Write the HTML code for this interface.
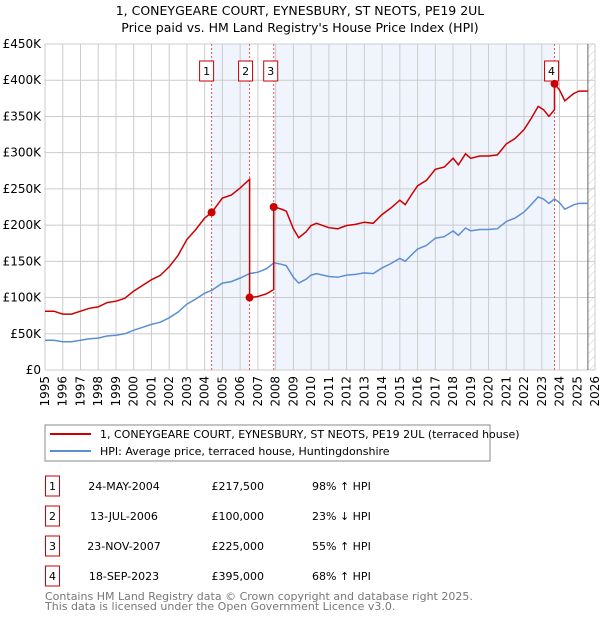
<!DOCTYPE html>
<html><head><meta charset="utf-8"><style>
body{margin:0;background:#fff;font-family:"DejaVu Sans","Liberation Sans",sans-serif;}
svg text{font-family:"DejaVu Sans","Liberation Sans",sans-serif;}
</style></head><body>
<svg id="chart" width="600" height="620" xmlns="http://www.w3.org/2000/svg">
<defs><pattern id="hatch" width="6" height="6" patternUnits="userSpaceOnUse" patternTransform="rotate(45)"><line x1="0" y1="0" x2="0" y2="6" stroke="#ccc" stroke-width="1"/></pattern></defs>
<text x="300" y="15" text-anchor="middle" font-size="12.5">1, CONEYGEARE COURT, EYNESBURY, ST NEOTS, PE19 2UL</text>
<text x="300" y="32" text-anchor="middle" font-size="12.5">Price paid vs. HM Land Registry's House Price Index (HPI)</text>
<g id="plot"></g>
<rect x="45" y="425" width="445" height="36" fill="#fff" stroke="#888"/>
<line x1="50" y1="434" x2="91" y2="434" stroke="#cc0000" stroke-width="2"/>
<text x="100" y="438" font-size="11">1, CONEYGEARE COURT, EYNESBURY, ST NEOTS, PE19 2UL (terraced house)</text>
<line x1="50" y1="451" x2="91" y2="451" stroke="#5b8fd4" stroke-width="2"/>
<text x="100" y="455" font-size="11">HPI: Average price, terraced house, Huntingdonshire</text>
<g id="table"></g>
<text x="45" y="600" font-size="11" fill="#777">Contains HM Land Registry data © Crown copyright and database right 2025.</text>
<text x="45" y="610" font-size="11" fill="#777">This data is licensed under the Open Government Licence v3.0.</text>
</svg>
<script>
const hpiYears=[1995,1995.5,1996,1996.5,1997,1997.5,1998,1998.5,1999,1999.5,2000,2000.5,2001,2001.5,2002,2002.5,2003,2003.5,2004,2004.4,2005,2005.5,2006,2006.53,2007,2007.5,2007.9,2008.3,2008.6,2009,2009.3,2009.7,2010,2010.3,2011,2011.5,2012,2012.5,2013,2013.5,2014,2014.5,2015,2015.3,2015.7,2016,2016.5,2017,2017.5,2018,2018.3,2018.7,2019,2019.5,2020,2020.5,2021,2021.5,2022,2022.4,2022.8,2023.1,2023.4,2023.72,2024,2024.3,2024.8,2025.1,2025.6];
const hpiValues=[41,41,39,39,41,43,44,47,48,50,55,59,63,66,72,80,91,98,106,110,120,122,127,133,135,140,148,146,144,128,120,125,131,133,129,128,131,132,134,133,141,147,154,150,160,167,172,182,184,192,186,196,192,194,194,195,205,210,218,228,239,236,230,236,231,222,228,230,230];
const saleYears=[2004.39,2006.53,2007.89,2023.72];
const salePrices=[217500,100000,225000,395000];
const saleLabels=["1","2","3","4"];
const saleDates=["24-MAY-2004","13-JUL-2006","23-NOV-2007","18-SEP-2023"];
const salePriceText=["£217,500","£100,000","£225,000","£395,000"];
const saleHpiText=["98% ↑ HPI","23% ↓ HPI","55% ↑ HPI","68% ↑ HPI"];
const yTicks=[0,50,100,150,200,250,300,350,400,450];
const yTickLabels=["£0","£50K","£100K","£150K","£200K","£250K","£300K","£350K","£400K","£450K"];
const xTicks=[1995,1996,1997,1998,1999,2000,2001,2002,2003,2004,2005,2006,2007,2008,2009,2010,2011,2012,2013,2014,2015,2016,2017,2018,2019,2020,2021,2022,2023,2024,2025,2026];

const NS="http://www.w3.org/2000/svg";
const X0=45,X1=595,Y0=370,Y1=44;
const xs=y=>X0+(y-1995)/(2026-1995)*(X1-X0);
const ys=v=>Y0-v/450*(Y0-Y1);
function mk(tag,attrs,parent){const e=document.createElementNS(NS,tag);for(const k in attrs)e.setAttribute(k,attrs[k]);parent.appendChild(e);return e;}
const g=document.getElementById('plot');
function hpiAt(t){for(let i=0;i<hpiYears.length-1;i++){if(t<=hpiYears[i+1]){const f=(t-hpiYears[i])/(hpiYears[i+1]-hpiYears[i]);return hpiValues[i]+f*(hpiValues[i+1]-hpiValues[i]);}}return hpiValues[hpiValues.length-1];}
let r=mk('rect',{x:xs(saleYears[0]),y:Y1,width:xs(saleYears[1])-xs(saleYears[0]),height:Y0-Y1,fill:'#f0f4fd'},g);


r=mk('rect',{x:xs(saleYears[2]),y:Y1,width:xs(saleYears[3])-xs(saleYears[2]),height:Y0-Y1,fill:'#f0f4fd'},g);


r=mk('rect',{x:xs(2025.6),y:Y1,width:X1-xs(2025.6),height:Y0-Y1,fill:'url(#hatch)'},g);


yTicks.forEach((v,i)=>{
 const l=mk('line',{x1:X0,x2:X1,y1:ys(v),y2:ys(v),stroke:'#ccc','stroke-width':1},g);
 
 
 const t=mk('text',{x:X0-4,y:ys(v)+4,'text-anchor':'end','font-size':12},g);t.textContent=yTickLabels[i];
 
 
});
xTicks.forEach(yr=>{
 const l=mk('line',{x1:xs(yr),x2:xs(yr),y1:Y1,y2:Y0,stroke:'#ccc','stroke-width':1},g);
 
 
 const t=mk('text',{x:0,y:0,'text-anchor':'end','font-size':12,transform:`translate(${xs(yr)+4},${Y0+6}) rotate(-90)`},g);t.textContent=yr;
 
 
});
let a=mk('line',{x1:xs(2025.6),x2:xs(2025.6),y1:Y1,y2:Y0,stroke:'#666','stroke-width':1},g);


saleYears.forEach((sy,i)=>{
 const l=mk('line',{x1:xs(sy),x2:xs(sy),y1:Y1,y2:Y0,stroke:'#e55','stroke-width':1,'stroke-dasharray':'2,2'},g);
 
 
 const off=[-5,-4,-3,-3][i];
 const b=mk('rect',{x:xs(sy)+off-7,y:61,width:14,height:20,fill:'#fff',stroke:'#cc0000'},g);
 
 
 const t=mk('text',{x:xs(sy)+off,y:75,'text-anchor':'middle','font-size':11},g);t.textContent=saleLabels[i];
 
 
});
let d='';hpiYears.forEach((yr,i)=>{d+=(i?'L':'M')+xs(yr).toFixed(1)+','+ys(hpiValues[i]).toFixed(1);});
let p=mk('path',{d:d,fill:'none',stroke:'#5b8fd4','stroke-width':1.5},g);


const bounds=[1995,...saleYears.slice(1),2025.6];
d='';
for(let s=0;s<saleYears.length;s++){
 const f=salePrices[s]/1000/hpiAt(saleYears[s]);
 const a0=bounds[s],a1=bounds[s+1];
 const pts=[a0,...hpiYears.filter(y=>y>a0&&y<a1),a1];
 pts.forEach((yr,j)=>{d+=((s==0&&j==0)?'M':'L')+xs(yr).toFixed(1)+','+ys(hpiAt(yr)*f).toFixed(1);});
}
p=mk('path',{d:d,fill:'none',stroke:'#cc0000','stroke-width':1.5},g);


saleYears.forEach((sy,i)=>{
 const c=mk('circle',{cx:xs(sy),cy:ys(salePrices[i]/1000),r:4,fill:'#cc0000'},g);
 
 
});
const tg=document.getElementById('table');
saleLabels.forEach((lab,i)=>{
 const y=476+i*30;
 const b=mk('rect',{x:45.5,y:y,width:14,height:20,fill:'#fff',stroke:'#cc0000'},tg);
 
 
 let t=mk('text',{x:52.5,y:y+14,'text-anchor':'middle','font-size':11},tg);t.textContent=lab;
 
 
 t=mk('text',{x:124,y:y+14,'text-anchor':'middle','font-size':11},tg);t.textContent=saleDates[i];
 
 
 t=mk('text',{x:264,y:y+14,'text-anchor':'end','font-size':11},tg);t.textContent=salePriceText[i];
 
 
 t=mk('text',{x:312,y:y+14,'font-size':11},tg);t.textContent=saleHpiText[i];
 
 
});
</script>
</body></html>
